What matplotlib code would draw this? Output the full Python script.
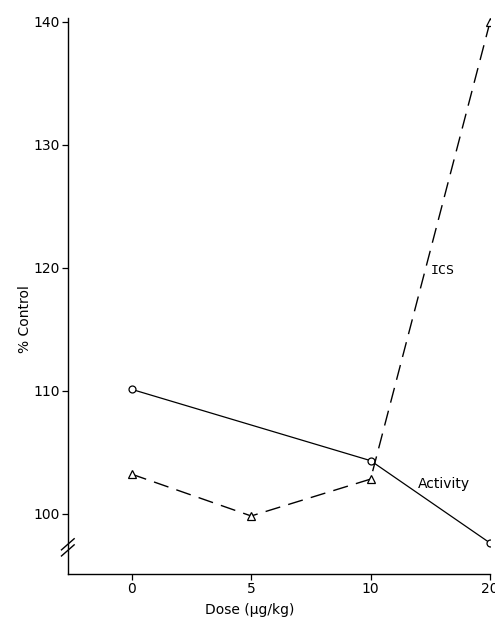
import matplotlib
matplotlib.use("Agg")
from matplotlib import pyplot as plt

doses = ["0", "5", "10", "20"]
activity_x = [0, 2, 3]
activity = [110.1, 104.3, 97.6]
ics_x = [0, 1, 2, 3]
ics = [103.2, 99.8, 102.8, 140.0]
yticks = [100, 110, 120, 130, 140]

fig = plt.figure(figsize=(4.95, 6.25), dpi=100)
ax = fig.add_axes([0.137, 0.082, 0.853, 0.889])

ax.plot(activity_x, activity, color="black", lw=0.9, marker="o", ms=5,
        mfc="white", mec="black", mew=0.9)
ax.plot(ics_x, ics, color="black", lw=1.0, dashes=(11, 6), marker="^", ms=6,
        mfc="white", mec="black", mew=0.9)

ax.set_xlim(-0.535, 3.0)
ax.set_ylim(95.1, 140.3)
ax.set_xticks(range(len(doses)))
ax.set_xticklabels(doses)
ax.set_yticks(yticks)
for s in ["top", "right"]:
    ax.spines[s].set_visible(False)
ax.spines["left"].set_linewidth(1.0)
ax.spines["bottom"].set_linewidth(1.0)
ax.tick_params(direction="out", length=4, width=0.9, labelsize=10, pad=2)

# axis break on y
for dy in (0.0, 0.011):
    ax.plot([-0.015, 0.015], [0.032 + dy, 0.052 + dy], transform=ax.transAxes,
            color="black", lw=1.0, clip_on=False)

ax.text(2.5, 119.8, "ICS", fontsize=9.5, family="DejaVu Sans Mono", va="center")
ax.text(2.4, 102.4, "Activity", fontsize=10, va="center")

fig.text(0.505, 0.018, "Dose (\u03bcg/kg)", fontsize=10, ha="center")
fig.text(0.036, 0.49, "% Control", fontsize=10, rotation=90, va="center")

plt.savefig("out.png", dpi=100)
